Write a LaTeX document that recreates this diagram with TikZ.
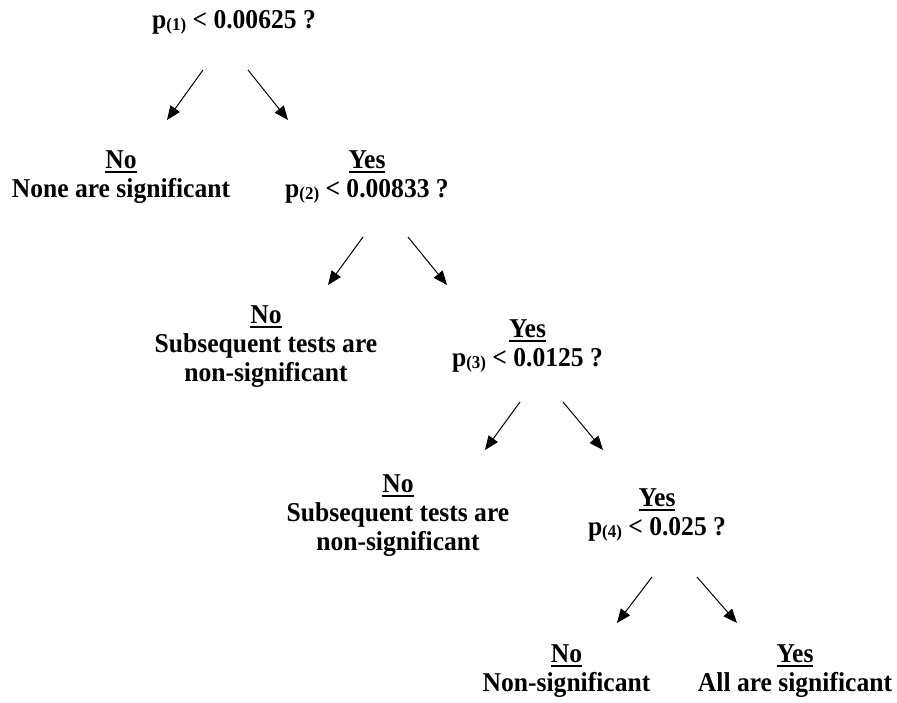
\documentclass[tikz,border=0pt]{standalone}
\usepackage{fontspec}
\setmainfont[FakeStretch=0.94]{Liberation Serif}
\usetikzlibrary{arrows.meta, calc}

\newcommand{\uword}[1]{\vtop{\hbox{#1}\kern2pt\hrule height 1.2pt}}
\newcommand{\psub}[1]{p\raisebox{-1.8pt}{\fontsize{13.5}{13.5}\selectfont(#1)}}

\begin{document}
\begin{tikzpicture}[
        x=0.75pt,
        y=-0.75pt,
        txt/.style={
            anchor=north,
            align=center,
            inner sep=0pt,
            font=\fontsize{20.4}{21.8}\selectfont\bfseries,
        },
        arr/.style={
            -{Triangle[length=10.5pt, width=8.5pt]},
            line width=0.75pt,
        },
    ]
    \useasboundingbox (0,0) rectangle (897,703);

    \node[txt] (q1) at (234, 10) {\psub{1} < 0.00625 ?};

    \node[txt] (no1) at (121, 150) {\uword{No}\\None are significant};
    \node[txt] (yes2) at (367, 150) {\uword{Yes}\\\psub{2} < 0.00833 ?};

    \node[txt] (no2) at (266, 305) {\uword{No}\\Subsequent tests are\\non-significant};
    \node[txt] (yes3) at (527.5, 319) {\uword{Yes}\\\psub{3} < 0.0125 ?};

    \node[txt] (no3) at (398, 474) {\uword{No}\\Subsequent tests are\\non-significant};
    \node[txt] (yes4) at (657, 488) {\uword{Yes}\\\psub{4} < 0.025 ?};

    \node[txt] (no5) at (566.5, 644) {\uword{No}\\Non-significant};
    \node[txt] (yes5) at (795, 644) {\uword{Yes}\\All are significant};

    % arrows start under the question, stop above the answer
    \draw[arr] ($(q1.north)+(-31,60)$) -- ($(no1.north)+(46,-30)$);
    \draw[arr] ($(q1.north)+(14,60)$) -- ($(yes2.north)+(-79,-30)$);

    \draw[arr] ($(yes2.north)+(-4,87)$) -- ($(no2.north)+(62,-20)$);
    \draw[arr] ($(yes2.north)+(41,87)$) -- ($(yes3.north)+(-80.5,-34)$);

    \draw[arr] ($(yes3.north)+(-7.5,83)$) -- ($(no3.north)+(87,-24)$);
    \draw[arr] ($(yes3.north)+(35.5,83)$) -- ($(yes4.north)+(-54,-38)$);

    \draw[arr] ($(yes4.north)+(-5,89)$) -- ($(no5.north)+(50.5,-21)$);
    \draw[arr] ($(yes4.north)+(40,89)$) -- ($(yes5.north)+(-58,-21)$);
\end{tikzpicture}
\end{document}
